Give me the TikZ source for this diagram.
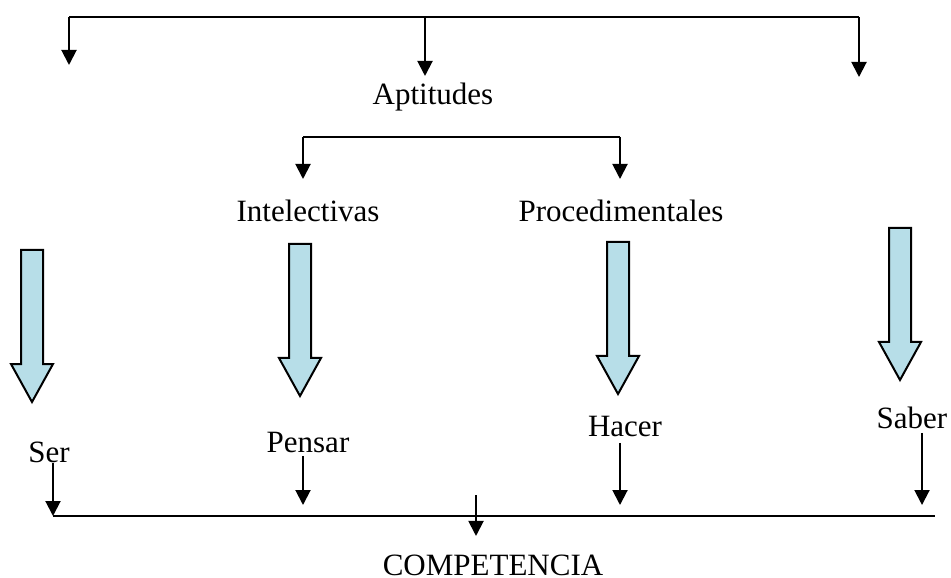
\documentclass[tikz,border=0pt]{standalone}
\usepackage{fontspec}
\setmainfont{Liberation Serif}
\usetikzlibrary{arrows.meta}
\definecolor{bleuclair}{HTML}{B7DEE8}
\tikzset{
  fleche/.style={line width=0.8pt,-{Triangle[length=6pt,width=6pt]}},
  trait/.style={line width=0.8pt},
  texte/.style={inner sep=0pt,anchor=base,font=\fontsize{12.4}{15}\selectfont},
  grosse/.style={line width=0.8pt,fill=bleuclair,line join=miter}
}
\begin{document}
\begin{tikzpicture}[x=0.4pt,y=-0.4pt]
\useasboundingbox (0,0) rectangle (951,578);
% les textes
\node[texte] (apt) at (433,105) {Aptitudes};
\node[texte] (int) at (308,222) {Intelectivas};
\node[texte] (proc) at (621,222) {Procedimentales};
\node[texte] (ser) at (49,462) {Ser};
\node[texte] (pen) at (308,452) {Pensar};
\node[texte] (hac) at (625,436) {Hacer};
\node[texte] (sab) at (912,428) {Saber};
\node[texte] (comp) at (493,575) {COMPETENCIA};

% accolade du haut
\coordinate (h1) at (69,17) ;
\coordinate (h2) at (425,17) ;
\coordinate (h3) at (859,17) ;
\coordinate (f1) at (69,65) ;
\coordinate (f3) at (859,77) ;
\draw[trait] (h1) -- (h3) ;
\draw[fleche] (h1) -- (f1) ;
\draw[fleche] (h3) -- (f3) ;
\draw[fleche,shorten >=2.8pt] (h2) -- (apt.north -| h2) ;

% accolade du milieu
\coordinate (m1) at (303,137) ;
\coordinate (m2) at (620,137) ;
\draw[trait] (m1) -- (m2) ;
\draw[fleche,shorten >=8.4pt] (m1) -- (int.north -| m1) ;
\draw[fleche,shorten >=8.4pt] (m2) -- (proc.north -| m2) ;

% grosses fleches bleues
\foreach \x/\t in {32/250, 300/244, 618/242, 900/228}
  \draw[grosse] (\x-11,\t) -- (\x+11,\t) -- (\x+11,\t+114) -- (\x+21,\t+114)
    -- (\x,\t+152) -- (\x-21,\t+114) -- (\x-11,\t+114) -- cycle ;

% ligne du bas
\coordinate (b1) at (53,516) ;
\coordinate (b2) at (935,516) ;
\draw[trait] (b1) -- (b2) ;
\draw[fleche] (ser.south -| b1) -- (b1) ;
\coordinate (p1) at (303,505) ;
\coordinate (p2) at (620,505) ;
\coordinate (p3) at (922,505) ;
\draw[fleche,shorten <=1.2pt] (pen.south -| p1) -- (p1) ;
\draw[fleche,shorten <=2.4pt] (hac.south -| p2) -- (p2) ;
\draw[fleche,shorten <=1.6pt] (sab.south -| p3) -- (p3) ;
\coordinate (c1) at (476,495) ;
\draw[fleche,shorten >=7.2pt] (c1) -- (comp.north -| c1) ;
\end{tikzpicture}
\end{document}
